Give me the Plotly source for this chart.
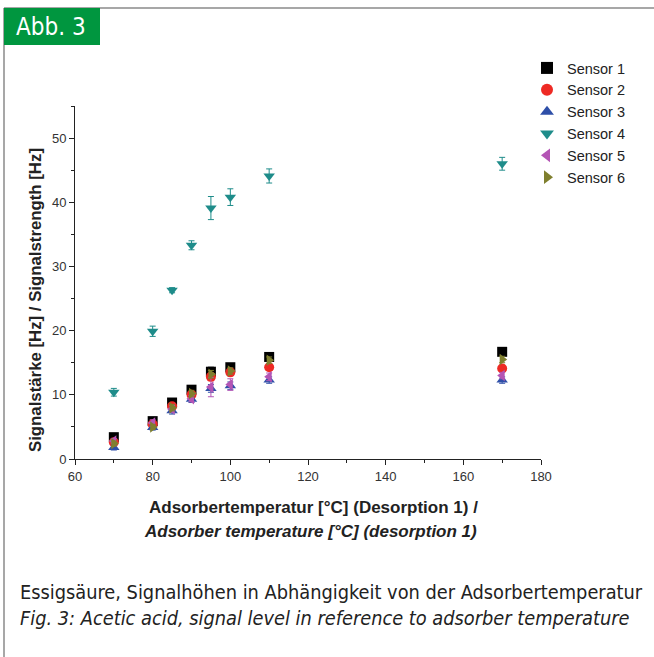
import plotly.graph_objects as go

temps = [70, 80, 85, 90, 95, 100, 110, 170]
sensor_names = ["Sensor 1", "Sensor 2", "Sensor 3", "Sensor 4", "Sensor 5", "Sensor 6"]
s1 = [3.4, 5.9, 8.8, 10.8, 13.6, 14.3, 15.9, 16.7]
s2 = [2.6, 5.4, 8.2, 10.0, 12.8, 13.5, 14.3, 14.1]
s3 = [1.8, 4.9, 7.5, 9.3, 11.0, 11.4, 12.3, 12.3]
s4 = [10.4, 19.9, 26.3, 33.3, 39.1, 40.8, 44.1, 46.0]
s5 = [2.8, 5.6, 7.8, 9.4, 11.2, 11.6, 12.8, 13.0]
s6 = [2.4, 5.0, 8.0, 10.2, 13.2, 13.7, 15.4, 15.5]
e1 = [0.4, 0.4, 0.5, 0.5, 0.7, 0.5, 0.6, 0.5]
e2 = [0.4, 0.4, 0.5, 0.5, 0.6, 0.5, 0.5, 0.5]
e3 = [0.4, 0.4, 0.5, 0.5, 0.6, 0.6, 0.5, 0.5]
e4 = [0.6, 0.8, 0.4, 0.7, 1.8, 1.3, 1.1, 1.0]
e5 = [0.4, 0.5, 0.5, 0.5, 1.5, 0.9, 0.6, 0.5]
e6 = [0.4, 0.4, 0.5, 0.5, 0.6, 0.5, 0.5, 0.5]
colors = ["#000000", "#EE2A24", "#2E4FA8", "#1E8C8A", "#B455B5", "#7F7F2E"]
symbols = ["square", "circle", "triangle-up", "triangle-down", "triangle-left", "triangle-right"]

series = [s1, s2, s3, s4, s5, s6]
errors = [e1, e2, e3, e4, e5, e6]

W, H = 654, 657
L, R, T, B = 75, 541, 106, 459

fig = go.Figure()
for name, ys, es, c, sym in zip(sensor_names, series, errors, colors, symbols):
    fig.add_trace(go.Scatter(
        x=temps, y=ys, mode="markers", name=name,
        marker=dict(symbol=sym, color=c, size=10, line=dict(width=0)),
        error_y=dict(type="data", array=es, visible=True, color=c, thickness=1, width=3),
    ))

def px(x):
    return (x - L) / (R - L)

def py(y):
    return (B - y) / (B - T)

font_main = "Arial, Liberation Sans, Helvetica, sans-serif"
font_narrow = "Liberation Sans Narrow, Arial Narrow, DejaVu Sans Condensed, sans-serif"

shapes = [
    dict(type="line", xref="paper", yref="paper", x0=px(4), x1=px(654), y0=py(8), y1=py(8),
         line=dict(color="#8a8a8a", width=1.5)),
    dict(type="line", xref="paper", yref="paper", x0=px(4), x1=px(4), y0=py(8), y1=py(657),
         line=dict(color="#8a8a8a", width=1.5)),
    dict(type="rect", xref="paper", yref="paper", x0=px(4), x1=px(100), y0=py(8), y1=py(45),
         fillcolor="#00963F", line=dict(width=0)),
]

annotations = [
    dict(text="Abb. 3", xref="paper", yref="paper", x=px(14), y=py(27), xanchor="left", yanchor="middle",
         showarrow=False, font=dict(family=font_narrow, size=24, color="white")),
    dict(text="<b>Signalstärke [Hz] / Signalstrength [Hz]</b>", xref="paper", yref="paper",
         x=px(35), y=py(300), textangle=-90, showarrow=False, xanchor="center", yanchor="middle",
         font=dict(family=font_main, size=16.8, color="#222")),
    dict(text="<b>Adsorbertemperatur [°C] (Desorption 1) /</b>", xref="paper", yref="paper",
         x=px(313), y=py(507), showarrow=False, xanchor="center", yanchor="middle",
         font=dict(family=font_main, size=17, color="#222")),
    dict(text="<b><i>Adsorber temperature [°C] (desorption 1)</i></b>", xref="paper", yref="paper",
         x=px(310), y=py(531), showarrow=False, xanchor="center", yanchor="middle",
         font=dict(family=font_main, size=17, color="#222")),
    dict(text="Essigsäure, Signalhöhen in Abhängigkeit von der Adsorbertemperatur", xref="paper", yref="paper",
         x=px(18), y=py(592), showarrow=False, xanchor="left", yanchor="middle",
         font=dict(family=font_narrow, size=19.8, color="#222")),
    dict(text="<i>Fig. 3: Acetic acid, signal level in reference to adsorber temperature</i>", xref="paper", yref="paper",
         x=px(18), y=py(618), showarrow=False, xanchor="left", yanchor="middle",
         font=dict(family=font_narrow, size=19.8, color="#222")),
]

fig.update_layout(
    width=W, height=H,
    margin=dict(l=L, r=W - R, t=T, b=H - B),
    paper_bgcolor="white", plot_bgcolor="white",
    showlegend=True,
    legend=dict(x=px(527), y=py(52), xanchor="left", yanchor="top", bgcolor="rgba(0,0,0,0)",
                font=dict(family=font_main, size=14.5, color="#222"), tracegroupgap=0,
                itemsizing="constant"),
    shapes=shapes, annotations=annotations,
    xaxis=dict(range=[60, 180], tickvals=[60, 80, 100, 120, 140, 160, 180], showgrid=False, zeroline=False,
               showline=True, linecolor="#222", linewidth=1, ticks="outside", ticklen=5, tickcolor="#222",
               tickfont=dict(family=font_main, size=13, color="#333"),
               minor=dict(dtick=10, ticks="outside", ticklen=3, tickcolor="#222")),
    yaxis=dict(range=[0, 55], tickvals=[0, 10, 20, 30, 40, 50], showgrid=False, zeroline=False,
               showline=True, linecolor="#222", linewidth=1, ticks="outside", ticklen=5, tickcolor="#222",
               tickfont=dict(family=font_main, size=13, color="#333"),
               minor=dict(dtick=5, ticks="outside", ticklen=3, tickcolor="#222")),
)

fig.write_html("out.html", config={"displayModeBar": False},
               post_script="document.body.style.margin='0px';")
